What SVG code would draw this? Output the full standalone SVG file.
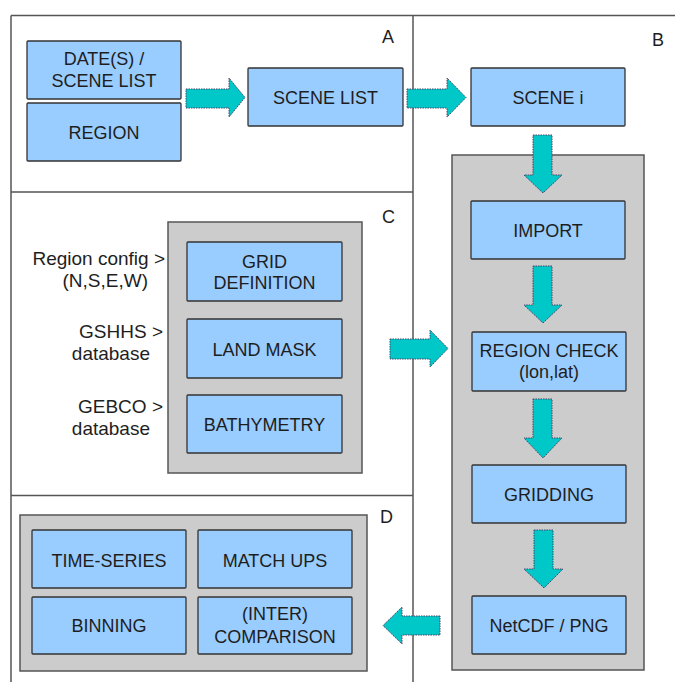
<svg xmlns="http://www.w3.org/2000/svg" width="675" height="682" viewBox="0 0 675 682">
<style>
text{font-family:"Liberation Sans",Arial,sans-serif;font-size:18px;fill:#1e1e1e;}
.c{text-anchor:middle;}
.e{text-anchor:end;font-size:19px;}
.box{fill:#99ccff;stroke:#333;stroke-width:1.3;}
.panel{fill:#cccccc;stroke:#555;stroke-width:1.5;}
.arrow{fill:#00c8c8;stroke:#446;stroke-width:1;stroke-dasharray:1.5 1;}
.frame{stroke:#555;stroke-width:1.5;fill:none;}
</style>
<g id="frame">
<line class="frame" x1="11" y1="15.5" x2="675" y2="15.5"/>
<line class="frame" x1="11" y1="15.5" x2="11" y2="682"/>
<line class="frame" x1="413" y1="15.5" x2="413" y2="682"/>
<line class="frame" x1="11" y1="192" x2="413" y2="192"/>
<line class="frame" x1="11" y1="495.5" x2="413" y2="495.5"/>
<text x="382" y="43">A</text>
<text x="652" y="46">B</text>
<text x="382" y="223">C</text>
<text x="380" y="523">D</text>
</g>
<g id="panelB"><rect class="panel" x="452" y="155" width="192" height="515"/></g>
<g id="panelC"><rect class="panel" x="168" y="222" width="194" height="251"/></g>
<g id="panelD"><rect class="panel" x="20" y="515" width="347" height="156"/></g>
<g id="dates"><rect class="box" x="27" y="41" width="154" height="58" rx="1"/><text class="c" x="104" y="65">DATE(S) /</text><text class="c" x="104" y="87">SCENE LIST</text></g>
<g id="region"><rect class="box" x="27" y="103" width="154" height="58" rx="1"/><text class="c" x="104" y="139">REGION</text></g>
<g id="scenelist"><rect class="box" x="248" y="68" width="155" height="58" rx="1"/><text class="c" x="325.5" y="103.5">SCENE LIST</text></g>
<g id="scenei"><rect class="box" x="471" y="68" width="154" height="58" rx="1"/><text class="c" x="548" y="103.5">SCENE i</text></g>
<g id="import"><rect class="box" x="471" y="201" width="154" height="58" rx="1"/><text class="c" x="548" y="237">IMPORT</text></g>
<g id="regioncheck"><rect class="box" x="472" y="332" width="154" height="59" rx="1"/><text class="c" x="549" y="357">REGION CHECK</text><text class="c" x="549" y="378">(lon,lat)</text></g>
<g id="gridding"><rect class="box" x="472" y="465" width="154" height="58" rx="1"/><text class="c" x="549" y="501">GRIDDING</text></g>
<g id="netcdf"><rect class="box" x="472" y="596" width="154" height="58" rx="1"/><text class="c" x="549" y="632">NetCDF / PNG</text></g>
<g id="griddef"><rect class="box" x="187" y="242" width="155" height="59" rx="1"/><text class="c" x="264.5" y="268">GRID</text><text class="c" x="264.5" y="289">DEFINITION</text></g>
<g id="landmask"><rect class="box" x="187" y="319" width="155" height="59" rx="1"/><text class="c" x="264.5" y="356">LAND MASK</text></g>
<g id="bathymetry"><rect class="box" x="187" y="395" width="155" height="58" rx="1"/><text class="c" x="264.5" y="431">BATHYMETRY</text></g>
<g id="inputs">
<text class="e" x="165" y="265">Region config &gt;</text>
<text class="e" x="148" y="287">(N,S,E,W)</text>
<text class="e" x="163" y="338">GSHHS &gt;</text>
<text class="e" x="150" y="360">database</text>
<text class="e" x="163" y="413">GEBCO &gt;</text>
<text class="e" x="150" y="435">database</text>
</g>
<g id="timeseries"><rect class="box" x="32" y="530" width="154" height="58" rx="1"/><text class="c" x="109" y="567">TIME-SERIES</text></g>
<g id="matchups"><rect class="box" x="198" y="530" width="154" height="58" rx="1"/><text class="c" x="275" y="567">MATCH UPS</text></g>
<g id="binning"><rect class="box" x="32" y="597" width="154" height="57" rx="1"/><text class="c" x="109" y="632">BINNING</text></g>
<g id="comparison"><rect class="box" x="198" y="597" width="154" height="57" rx="1"/><text class="c" x="275" y="620">(INTER)</text><text class="c" x="275" y="643">COMPARISON</text></g>
<g id="connectors">
<polygon class="arrow" points="186,89 229,89 229,78 245,97.5 229,117 229,108 186,108"/>
<polygon class="arrow" points="407,89 447,89 447,78 466,97.5 447,117 447,108 407,108"/>
<polygon class="arrow" points="533,135 552,135 552,175 562,175 543,193 524,175 533,175"/>
<polygon class="arrow" points="533,266 552,266 552,305 562,305 543,323 524,305 533,305"/>
<polygon class="arrow" points="533,399 552,399 552,438 562,438 543,458 524,438 533,438"/>
<polygon class="arrow" points="534,530 553,530 553,569 563,569 544,588 524,569 534,569"/>
<polygon class="arrow" points="390,339 430,339 430,330 448,348.5 430,367 430,359 390,359"/>
<polygon class="arrow" points="440,616 402,616 402,607 383,625.5 402,644 402,635 440,635"/>
</g>
</svg>
